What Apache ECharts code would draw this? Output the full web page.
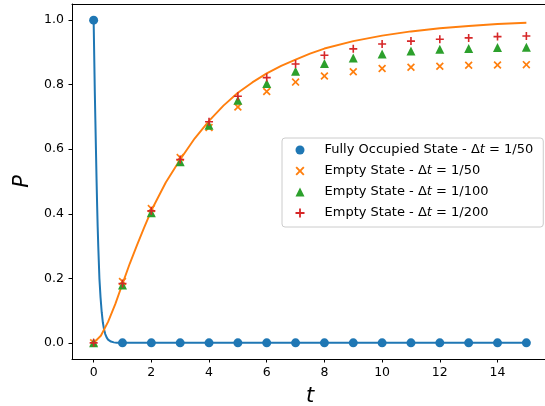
<!DOCTYPE html>
<html>
<head>
<meta charset="utf-8">
<script src="https://cdn.jsdelivr.net/npm/echarts@6/dist/echarts.min.js"></script>
<style>
html,body{margin:0;padding:0;background:#fff;}
#chart{width:545px;height:406px;}
</style>
</head>
<body>
<div id="chart"></div>
<script>
// ---- data ----
const tPoints = [0,1,2,3,4,5,6,7,8,9,10,11,12,13,14,15];
const occupied = [1,0,0,0,0,0,0,0,0,0,0,0,0,0,0,0];
const empty50  = [0,0.190,0.416,0.574,0.667,0.731,0.779,0.808,0.827,0.840,0.850,0.854,0.857,0.860,0.861,0.862];
const empty100 = [0,0.179,0.403,0.561,0.674,0.752,0.804,0.842,0.866,0.883,0.895,0.904,0.910,0.912,0.915,0.916];
const empty200 = [0,0.184,0.409,0.568,0.685,0.764,0.822,0.864,0.891,0.911,0.926,0.935,0.941,0.945,0.949,0.951];

const occCurveT = [0,0.02,0.04,0.06,0.08,0.1,0.12,0.14,0.16,0.18,0.2,0.24,0.28,0.32,0.36,0.4,0.45,0.5,0.6,0.7,0.8,0.9,1.0,15];
const occCurveP = [1,0.89,0.78,0.69,0.6,0.51,0.43,0.36,0.30,0.25,0.2,0.14,0.095,0.063,0.042,0.028,0.017,0.010,0.004,0.0015,0.0006,0.0002,0,0];

const empCurveT = [0,0.25,0.5,0.75,1,1.25,1.5,1.75,2,2.5,3,3.5,4,4.5,5,5.5,6,6.5,7,7.5,8,9,10,11,12,13,14,15];
const empCurveP = [0,0.022,0.065,0.12,0.183,0.245,0.302,0.357,0.41,0.497,0.568,0.633,0.688,0.735,0.775,0.807,0.835,0.858,0.878,0.896,0.912,0.935,0.952,0.965,0.975,0.982,0.988,0.992];

const xTicks = [0,2,4,6,8,10,12,14];
const yTicks = [0,0.2,0.4,0.6,0.8,1.0];

const names = [
  'Fully Occupied State - Δt = 1/50',
  'Empty State - Δt = 1/50',
  'Empty State - Δt = 1/100',
  'Empty State - Δt = 1/200'
];
const legendLabels = {};
legendLabels[names[0]] = 'Fully Occupied State - Δ{it|t} = 1/50';
legendLabels[names[1]] = 'Empty State - Δ{it|t} = 1/50';
legendLabels[names[2]] = 'Empty State - Δ{it|t} = 1/100';
legendLabels[names[3]] = 'Empty State - Δ{it|t} = 1/200';

const FONT = 'DejaVu Sans';
const pair = (xs, ys) => xs.map((x, i) => [x, ys[i]]);

const xSym = 'path://M1.5,0 L5,3.5 L8.5,0 L10,1.5 L6.5,5 L10,8.5 L8.5,10 L5,6.5 L1.5,10 L0,8.5 L3.5,5 L0,1.5 Z';
const plusSym = 'path://M4,0 H6 V4 H10 V6 H6 V10 H4 V6 H0 V4 H4 Z';

const chart = echarts.init(document.getElementById('chart'), null, {renderer: 'canvas'});
chart.setOption({
  animation: false,
  backgroundColor: '#fff',
  grid: {
    left: 72, width: 476, top: 4, height: 355,
    containLabel: false, outerBoundsMode: 'none', show: false
  },
  xAxis: [{
    type: 'value', min: -0.75, max: 15.75, position: 'bottom',
    name: 't', nameLocation: 'middle', nameGap: 27,
    nameTextStyle: {fontFamily: FONT, fontSize: 21, fontStyle: 'italic', color: '#000'},
    axisLine: {show: true, onZero: false, lineStyle: {color: '#000', width: 1}},
    axisTick: {show: true, length: 3.5, lineStyle: {color: '#000', width: 1}, customValues: xTicks},
    axisLabel: {fontFamily: FONT, fontSize: 12.5, color: '#000', margin: 7, customValues: xTicks},
    splitLine: {show: false}
  }, {
    type: 'value', min: -0.75, max: 15.75, position: 'top',
    axisLine: {show: true, onZero: false, lineStyle: {color: '#000', width: 1}},
    axisTick: {show: false}, axisLabel: {show: false}, splitLine: {show: false}
  }],
  yAxis: {
    type: 'value', min: -0.05, max: 1.05,
    name: 'P', nameLocation: 'middle', nameGap: 38,
    nameTextStyle: {fontFamily: FONT, fontSize: 21, fontStyle: 'italic', color: '#000'},
    axisLine: {show: true, onZero: false, lineStyle: {color: '#000', width: 1}},
    axisTick: {show: true, length: 3.5, lineStyle: {color: '#000', width: 1}, customValues: yTicks},
    axisLabel: {fontFamily: FONT, fontSize: 12.5, color: '#000', margin: 8, customValues: yTicks,
      formatter: v => v.toFixed(1)},
    splitLine: {show: false}
  },
  legend: {
    orient: 'vertical',
    left: 282, top: 138,
    data: names,
    padding: [5, 10, 7, 13.5],
    itemWidth: 9, itemHeight: 9, itemGap: 7,
    borderColor: '#ccc', borderWidth: 1, borderRadius: 3,
    backgroundColor: 'rgba(255,255,255,0.8)',
    formatter: n => legendLabels[n],
    textStyle: {fontFamily: FONT, fontSize: 13, color: '#000', lineHeight: 14, padding: [0,0,0,15],
      rich: {it: {fontFamily: FONT, fontSize: 13, fontStyle: 'italic', color: '#000', lineHeight: 14}}}
  },
  series: [
    {type: 'line', data: pair(occCurveT, occCurveP), showSymbol: false, symbol: 'none',
     smooth: false, lineStyle: {color: '#1f77b4', width: 2}, z: 2, silent: true},
    {type: 'scatter', name: names[0], data: pair(tPoints, occupied), symbol: 'circle', symbolSize: 9,
     itemStyle: {color: '#1f77b4', opacity: 1}, z: 3},
    {type: 'line', data: pair(empCurveT, empCurveP), showSymbol: false, symbol: 'none',
     smooth: false, lineStyle: {color: '#ff7f0e', width: 1.9}, z: 2, silent: true},
    {type: 'scatter', name: names[1], data: pair(tPoints, empty50), symbol: xSym, symbolSize: 8,
     itemStyle: {color: '#ff7f0e', opacity: 1}, z: 4},
    {type: 'scatter', name: names[2], data: pair(tPoints, empty100), symbol: 'triangle', symbolSize: 9,
     itemStyle: {color: '#2ca02c', opacity: 1}, z: 5},
    {type: 'scatter', name: names[3], data: pair(tPoints, empty200), symbol: plusSym, symbolSize: 8,
     itemStyle: {color: '#d62728', opacity: 1}, z: 6}
  ]
});
</script>
</body>
</html>
